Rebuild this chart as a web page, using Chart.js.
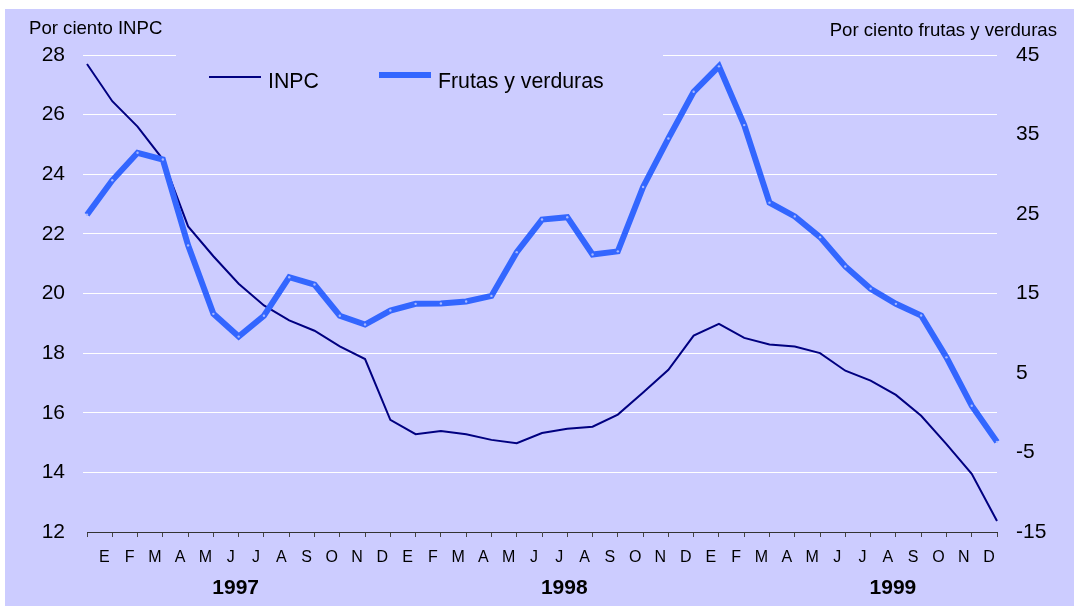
<!DOCTYPE html>
<html>
<head>
<meta charset="utf-8">
<script src="https://cdn.jsdelivr.net/npm/chart.js@4/dist/chart.umd.min.js"></script>
<style>
  html, body { margin: 0; padding: 0; background: #fff; }
  #marco { position: absolute; left: 5px; top: 9px; width: 1069px; height: 597px; background: #ccccff; }
  #wrap { position: absolute; left: 0; top: 0; width: 1074px; height: 606px; }
</style>
</head>
<body>
<div id="marco"></div>
<div id="wrap"><canvas id="grafica" width="1074" height="606"></canvas></div>
<script>
// dic 1996 .. dic 1999
const meses = ['D',
  'E','F','M','A','M','J','J','A','S','O','N','D',
  'E','F','M','A','M','J','J','A','S','O','N','D',
  'E','F','M','A','M','J','J','A','S','O','N','D'];
const anios = ['1997', '1998', '1999'];
const anioIndice = [6, 19, 32];

const inpc = [27.7,
  26.45, 25.6, 24.5, 22.25, 21.25, 20.33, 19.6, 19.1, 18.75, 18.23, 17.8, 15.76,
  15.28, 15.39, 15.28, 15.09, 14.98, 15.32, 15.46, 15.53, 15.94, 16.68, 17.44, 18.59,
  18.98, 18.51, 18.29, 18.22, 18.0, 17.41, 17.08, 16.6, 15.9, 14.95, 13.95, 12.37];
const frutas = [24.9,
  29.24, 32.7, 31.85, 21.05, 12.44, 9.58, 12.2, 17.05, 16.13, 12.2, 11.1, 12.86,
  13.7, 13.75, 14.0, 14.7, 20.2, 24.3, 24.6, 19.9, 20.3, 28.4, 34.5, 40.37,
  43.57, 36.18, 26.43, 24.7, 22.09, 18.4, 15.59, 13.7, 12.23, 6.97, 0.88, -3.66];

const fondo = '#ccccff';
const azulOscuro = '#000080';
const azul = '#3366ff';
const fuente = "'Liberation Sans', Arial, sans-serif";

const decorado = {
    id: 'decorado',
    beforeDatasetsDraw(chart) {
        // el cuadro de la leyenda tapa la cuadricula
        const ctx = chart.ctx;
        ctx.save();
        ctx.fillStyle = fondo;
        ctx.fillRect(176, 42, 487, 118);
        ctx.restore();
    },
    afterDraw(chart) {
        const ctx = chart.ctx, x = chart.scales.x;
        ctx.save();
        ctx.fillStyle = '#000';
        ctx.textBaseline = 'alphabetic';
        ctx.font = `18.6px ${fuente}`;
        ctx.textAlign = 'left';
        ctx.fillText('Por ciento INPC', 29, 34);
        ctx.textAlign = 'right';
        ctx.fillText('Por ciento frutas y verduras', 1057, 36);

        // leyenda
        const items = [
            { texto: 'INPC', color: azulOscuro, ancho: 2, x: 209, y: 77 },
            { texto: 'Frutas y verduras', color: azul, ancho: 6, x: 379, y: 75 }
        ];
        ctx.font = `21.3px ${fuente}`;
        ctx.textAlign = 'left';
        items.forEach(it => {
            ctx.strokeStyle = it.color;
            ctx.lineWidth = it.ancho;
            ctx.beginPath();
            ctx.moveTo(it.x, it.y);
            ctx.lineTo(it.x + 52, it.y);
            ctx.stroke();
            ctx.fillText(it.texto, it.x + 59, 88);
        });

        // años
        ctx.font = `bold 21px ${fuente}`;
        ctx.textAlign = 'center';
        ctx.textBaseline = 'middle';
        anios.forEach((a, i) => ctx.fillText(a, x.getPixelForValue(anioIndice[i]) - 3, 588));
        ctx.restore();
    }
};

new Chart(document.getElementById('grafica').getContext('2d'), {
    type: 'line',
    data: {
        labels: meses,
        datasets: [
            { label: 'INPC', data: inpc, yAxisID: 'y', borderColor: azulOscuro, borderWidth: 2,
              pointRadius: 0, tension: 0, order: 1 },
            { label: 'Frutas y verduras', data: frutas, yAxisID: 'y2', borderColor: azul, borderWidth: 6,
              pointRadius: 1.2, pointBorderWidth: 0, pointBackgroundColor: '#a8b8ff', tension: 0, order: 0 }
        ]
    },
    options: {
        responsive: false,
        animation: false,
        events: [],
        layout: { padding: { top: 55, left: 0, right: 0, bottom: 0 } },
        plugins: { legend: { display: false }, tooltip: { enabled: false } },
        scales: {
            x: {
                offset: false,
                afterFit: s => { s.height = 74; },
                border: { display: true, color: '#333', width: 1 },
                grid: { drawOnChartArea: false, drawTicks: true, tickLength: 5, color: '#444' },
                ticks: {
                    autoSkip: false, maxRotation: 0, padding: 11, labelOffset: -8,
                    color: '#000', font: { family: fuente, size: 16 },
                    callback: (v, i) => i === 0 ? '' : meses[i]
                }
            },
            y: {
                position: 'left', min: 12, max: 28,
                afterFit: s => { s.width = 87; },
                border: { display: false },
                grid: {
                    color: c => c.tick.value === 12 ? 'rgba(0,0,0,0)' : '#ffffff',
                    lineWidth: 1, drawTicks: true, tickLength: 4
                },
                ticks: { stepSize: 2, padding: 18, color: '#000', font: { family: fuente, size: 21 } }
            },
            y2: {
                position: 'right', min: -15, max: 45,
                afterFit: s => { s.width = 77; },
                border: { display: false },
                grid: { display: false, drawTicks: false },
                ticks: { stepSize: 10, padding: 19, color: '#000', font: { family: fuente, size: 21 } }
            }
        }
    },
    plugins: [decorado]
});
</script>
</body>
</html>
